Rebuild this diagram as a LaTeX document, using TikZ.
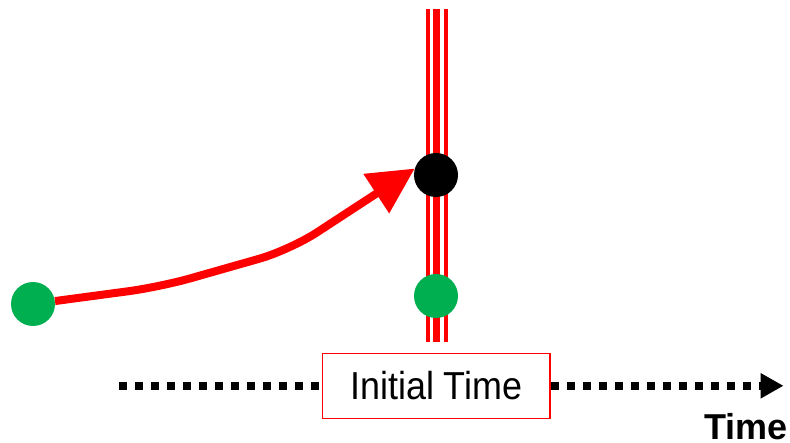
\documentclass[tikz,border=0pt]{standalone}
\usepackage{fontspec}
\setmainfont{Liberation Sans}
\usetikzlibrary{arrows.meta}
\definecolor{pgreen}{HTML}{00B050}
\definecolor{pred}{HTML}{FF0000}
\begin{document}
\begin{tikzpicture}[x=1pt,y=-1pt,
  dot/.style={circle,inner sep=0pt,minimum size=44pt},
  rail/.style={draw=pred,line cap=butt},
  axis/.style={line width=8pt,dash pattern=on 8pt off 8pt,line cap=butt},
  move/.style={draw=pred,line width=8pt,rounded corners=32pt,-{Triangle[length=46pt,width=45pt]}},
  timebox/.style={draw=pred,line width=1.5pt,fill=white,minimum width=227.5pt,minimum height=65pt,inner sep=0pt}]
\useasboundingbox (0,0) rectangle (790,443);
% triple rail
\coordinate (rt) at (436.5,9);
\coordinate (rb) at (436.5,342);
\draw[rail,line width=4pt] ([xshift=-9pt]rt) -- ([xshift=-9pt]rb);
\draw[rail,line width=7pt] (rt) -- (rb);
\draw[rail,line width=4pt] ([xshift=9pt]rt) -- ([xshift=9pt]rb);
% dots
\node[dot,fill=black] (black) at (436,175) {};
\node[dot,fill=pgreen] (g2) at (436,296) {};
\node[dot,fill=pgreen] (g1) at (33,304) {};
% arrow
\draw[move] (g1) -- (160,287) -- (290,250) -- (black.163);
% axis
\node[timebox] (box) at (436.3,385.8) {\scalebox{0.92}[1]{\fontsize{39}{45}\selectfont Initial Time}};
\coordinate (ax0) at (119,385.8);
\coordinate (ax1) at (783.5,385.8);
\draw[axis] (ax0) -- (box.west);
\draw[axis,-{Triangle[length=23pt,width=24pt]}] (box.east) -- (ax1);
\node[anchor=base east,inner sep=0pt,font=\bfseries\fontsize{36}{40}\selectfont] (tl) at (788,439.5) {Time};
\end{tikzpicture}
\end{document}
